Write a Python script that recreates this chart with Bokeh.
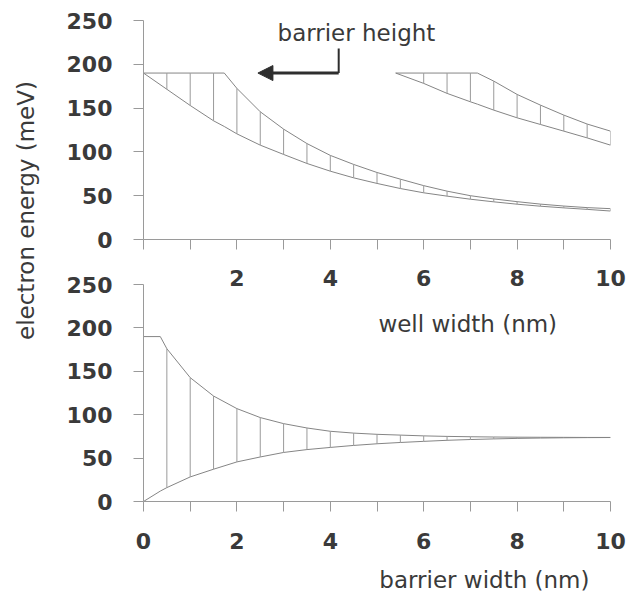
from bokeh.plotting import figure
from bokeh.layouts import row, column
from bokeh.models import Range1d, LinearAxis, FixedTicker, Label, Arrow, NormalHead
from bokeh.embed import file_html
from bokeh.resources import INLINE
import math

# ---------------- data ----------------
# top panel: electron energy (meV) vs well width (nm)
well_x1 = [0, 0.5, 1, 1.5, 1.73, 2, 2.5, 3, 3.5, 4, 4.5, 5, 5.5, 6, 6.5, 7, 7.5, 8, 8.5, 9, 9.5, 10]
band1_low = [190, 171.5, 153, 135.5, 129, 120.6, 107.7, 97.1, 86.8, 78.0, 70.4, 64.0, 58.2, 53.3, 49.5, 46.0, 43.0, 40.3, 38.0, 36.1, 34.4, 32.5]
band1_high = [190, 190, 190, 190, 190, 172.5, 145.8, 126.0, 109.5, 96.0, 85.7, 76.5, 68.9, 61.5, 55.2, 50.0, 46.3, 43.2, 40.4, 38.2, 36.4, 35.2]

well_x2 = [5.4, 6, 6.5, 7, 7.15, 7.5, 8, 8.5, 9, 9.5, 10]
band2_low = [190, 178.2, 166.8, 157.2, 154.5, 147.7, 138.9, 131.3, 123.7, 116.0, 107.7]
band2_high = [190, 190, 190, 190, 190, 180.8, 165.6, 153.4, 142.0, 131.8, 123.7]

# bottom panel: electron energy (meV) vs barrier width (nm)
barrier_x = [0, 0.36, 0.5, 1, 1.5, 2, 2.5, 3, 3.5, 4, 4.5, 5, 5.5, 6, 6.5, 7, 7.5, 8, 8.5, 9, 9.5, 10]
band3_low = [0, 12, 16, 28.3, 37.2, 45.6, 51.3, 56.5, 59.8, 62.3, 64.6, 66.5, 68.0, 69.3, 70.5, 71.4, 72.1, 72.7, 73.1, 73.4, 73.6, 73.7]
band3_high = [190, 190, 176, 142.7, 121.5, 107.0, 96.7, 89.7, 84.7, 80.9, 78.8, 77.4, 76.5, 75.6, 75.0, 74.6, 74.3, 74.1, 74.0, 73.9, 73.8, 73.8]

y_ticks = [0, 50, 100, 150, 200, 250]
x_ticks_top = [2, 4, 6, 8, 10]
x_minor_top = [0, 1, 3, 5, 7, 9]
x_ticks_bottom = [0, 2, 4, 6, 8, 10]
x_minor_bottom = [1, 3, 5, 7, 9]

# ---------------- styles ----------------
TEXT = "#3a3a3a"
AXIS = "#9a9a9a"
CURVE = "#858585"
HATCH = "#9a9a9a"
DARK = "#2e2e2e"
FONT = "DejaVu Sans"
TICK_SIZE = "22px"
LABEL_SIZE = "23px"


def style_axis(ax, ticks, minor, standoff):
    ax.ticker = FixedTicker(ticks=ticks, minor_ticks=minor)
    ax.axis_line_color = AXIS
    ax.major_tick_line_color = AXIS
    ax.minor_tick_line_color = AXIS
    ax.major_tick_out = 10
    ax.major_tick_in = 0
    ax.minor_tick_out = 10
    ax.minor_tick_in = 0
    ax.major_label_text_font = FONT
    ax.major_label_text_font_style = "bold"
    ax.major_label_text_font_size = TICK_SIZE
    ax.major_label_text_color = TEXT
    ax.major_label_standoff = standoff


def panel(h, yr, top, bottom, **kw):
    f = figure(width=576, height=h, x_range=Range1d(0, 10), y_range=yr,
               output_backend="svg", toolbar_location=None,
               min_border_left=93, min_border_right=16,
               min_border_top=top, min_border_bottom=bottom, **kw)
    f.grid.visible = False
    f.outline_line_color = None
    return f


def band(f, xs, lo, hi):
    f.line(xs, lo, line_color=CURVE, line_width=1)
    f.line(xs, hi, line_color=CURVE, line_width=1)
    keep = [abs(x * 2 - round(x * 2)) < 1e-9 for x in xs]
    hx = [x for x, k in zip(xs, keep) if k]
    hl = [v for v, k in zip(lo, keep) if k]
    hh = [v for v, k in zip(hi, keep) if k]
    f.segment(x0=hx, y0=hl, x1=hx, y1=hh, line_color=HATCH, line_width=1)


# ---------------- top panel ----------------
p1 = panel(255, Range1d(0, 250), 20, 16)
style_axis(p1.yaxis[0], y_ticks, [], 21)
# upper panel x axis: tick marks here, its numbers sit just above the lower panel
style_axis(p1.xaxis[0], [], sorted(x_ticks_top + x_minor_top), 0)
band(p1, well_x1, band1_low, band1_high)
band(p1, well_x2, band2_low, band2_high)

ARROW_Y = 190
ARROW_X0, ARROW_X1 = 4.18, 2.45
CALLOUT_TOP = 218
p1.add_layout(Arrow(end=NormalHead(size=15, fill_color=DARK, line_color=DARK),
                    x_start=ARROW_X0, y_start=ARROW_Y, x_end=ARROW_X1, y_end=ARROW_Y,
                    line_color=DARK, line_width=3))
p1.segment(x0=[ARROW_X0], y0=[ARROW_Y], x1=[ARROW_X0], y1=[CALLOUT_TOP],
           line_color=DARK, line_width=2)
p1.add_layout(Label(x=2.87, y=235.5, text="barrier height",
                    text_font=FONT, text_font_size=LABEL_SIZE, text_color=TEXT,
                    text_align="left", text_baseline="alphabetic"))

# ---------------- bottom panel ----------------
p2 = panel(301, Range1d(0, 250), 29, 55)
style_axis(p2.yaxis[0], y_ticks, [], 21)
style_axis(p2.xaxis[0], x_ticks_bottom, x_minor_bottom, 21)
top_labels = LinearAxis()
style_axis(top_labels, x_ticks_top, [], -1)
top_labels.axis_line_color = None
top_labels.major_tick_line_color = None
top_labels.major_tick_out = 0
p2.add_layout(top_labels, "above")
band(p2, barrier_x, band3_low, band3_high)
p2.add_layout(Label(x=5.03, y=205.0, text="well width (nm)",
                    text_font=FONT, text_font_size=LABEL_SIZE, text_color=TEXT,
                    text_align="left", text_baseline="alphabetic"))

# ---------------- x title of the lower panel ----------------
p3 = panel(38, Range1d(0, 38), 0, 0, x_axis_type=None, y_axis_type=None)
p3.add_layout(Label(x=5.05, y=15, text="barrier width (nm)",
                    text_font=FONT, text_font_size=LABEL_SIZE, text_color=TEXT,
                    text_align="left", text_baseline="alphabetic"))

# ---------------- shared y-axis title ----------------
pl = figure(width=50, height=594, x_range=Range1d(0, 50), y_range=Range1d(0, 594),
            output_backend="svg", toolbar_location=None,
            x_axis_type=None, y_axis_type=None, min_border=0)
pl.grid.visible = False
pl.outline_line_color = None
pl.add_layout(Label(x=25, y=384, text="electron energy (meV)", angle=math.pi / 2,
                    text_font=FONT, text_font_size=LABEL_SIZE, text_color=TEXT,
                    text_align="center", text_baseline="middle"))

layout = row(pl, column(p1, p2, p3))
open("out.html", "w").write(file_html(layout, INLINE))
